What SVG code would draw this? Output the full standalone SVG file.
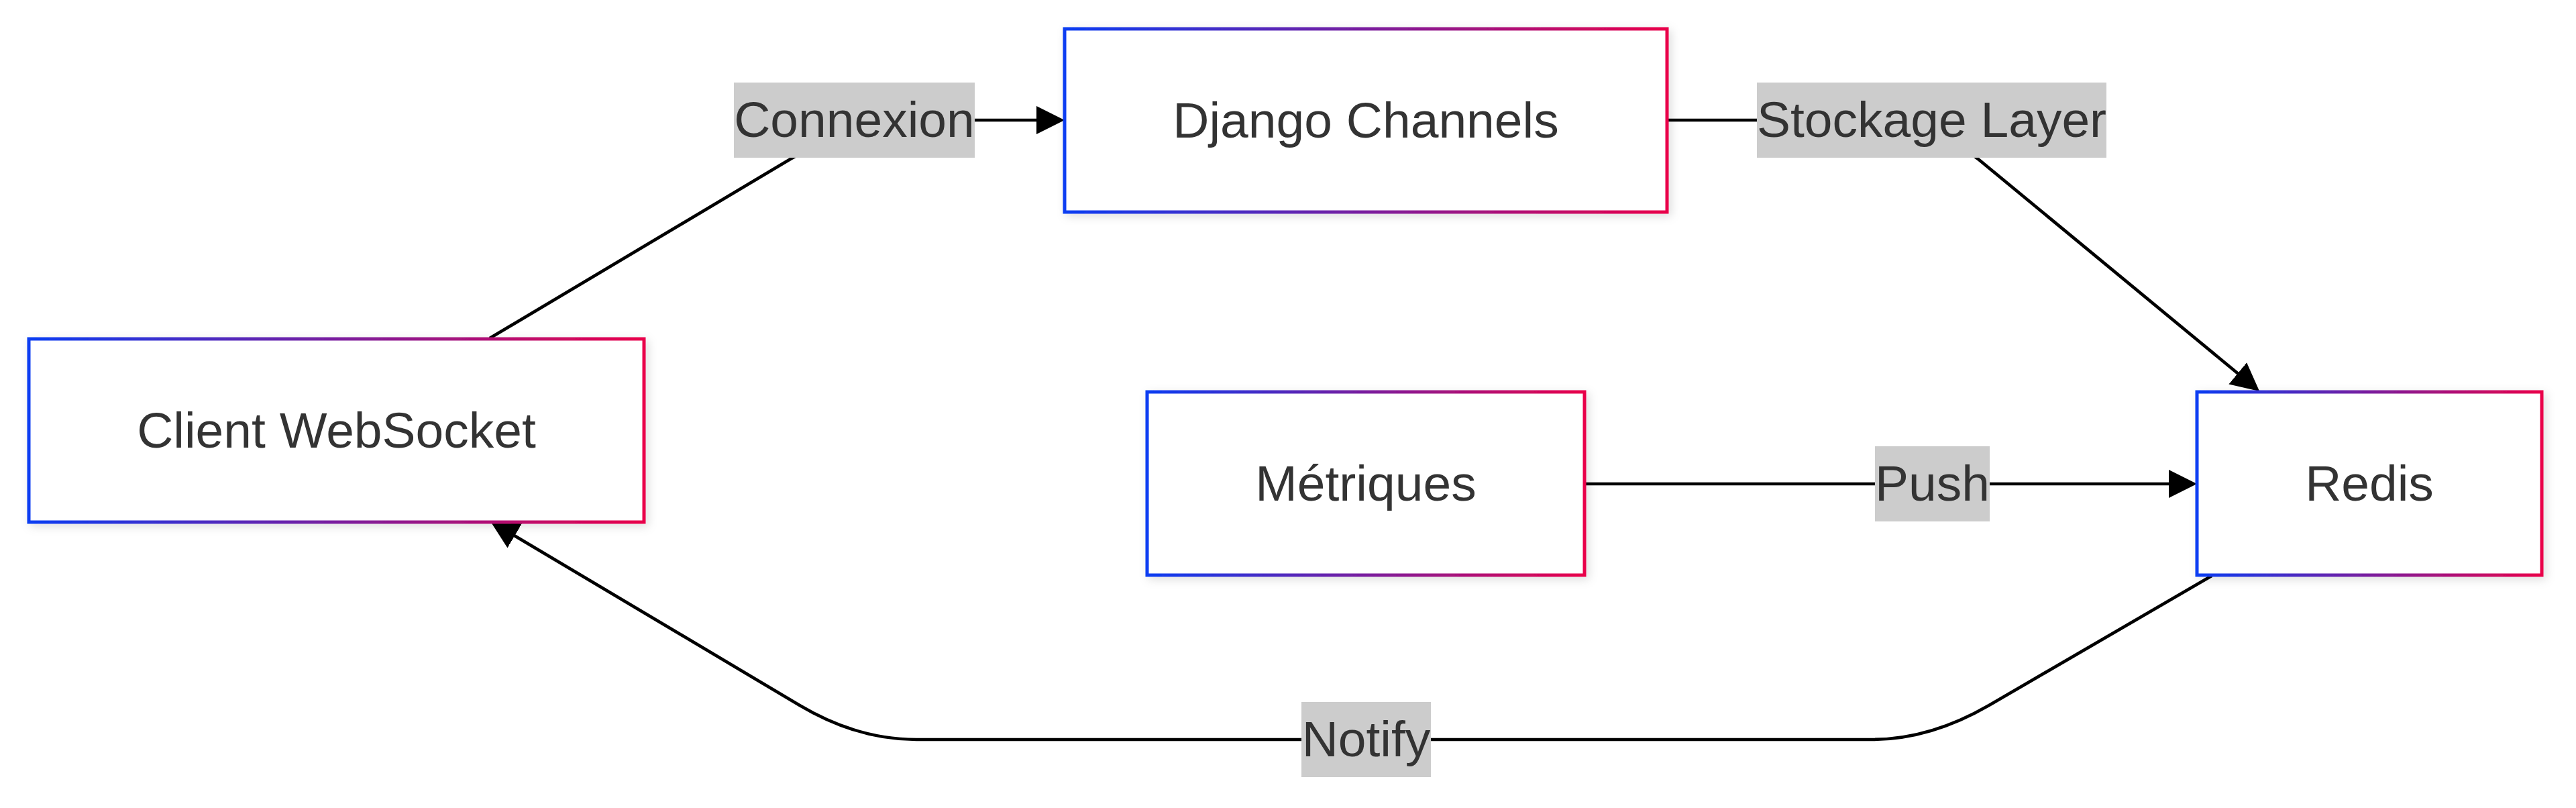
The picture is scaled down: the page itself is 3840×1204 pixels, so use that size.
<svg xmlns="http://www.w3.org/2000/svg" width="3840" height="1204" viewBox="0 0 3840 1204">
<defs>
<linearGradient id="border" x1="0" y1="0" x2="1" y2="0">
<stop offset="0" stop-color="#0a3cf2"/>
<stop offset="1" stop-color="#e9004a"/>
</linearGradient>
<filter id="shadow" x="-10%" y="-20%" width="120%" height="140%">
<feDropShadow dx="4" dy="4" stdDeviation="7" flood-color="#000" flood-opacity="0.13"/>
</filter>
<marker id="arrow" viewBox="0 0 10 10" refX="8.1" refY="5" markerWidth="42" markerHeight="44" markerUnits="userSpaceOnUse" orient="auto">
<path d="M0,0 L10,5 L0,10 z" fill="#000"/>
</marker>
<style>
.edge{fill:none;stroke:#000;stroke-width:4.7;marker-end:url(#arrow)}
.node rect{fill:#fff;stroke:url(#border);stroke-width:5;filter:url(#shadow)}
.lbl rect{fill:#cccccc}
text{font-family:"Liberation Sans",Arial,Helvetica,sans-serif;font-size:75px;fill:#333;text-anchor:middle}
</style>
</defs>
<rect width="3840" height="1204" fill="#fff"/>
<g id="connectors">
<path class="edge" d="M730,504 L1180,236 Q1276,179 1372,179 L1579,179"/>
<path class="edge" d="M2487,179 L2790,179 Q2878,179 2950,238 L3362,578"/>
<path class="edge" d="M2362,721 L3267,721"/>
<path class="edge" d="M3297,858 L2965,1051 Q2877,1102 2790,1102 L1366,1102 Q1278,1102 1192,1051 L738,781"/>
</g>
<g id="edge-labels">
<g class="lbl" id="label-connexion"><rect x="1094" y="123" width="359" height="112"/><text x="1273.5" y="204">Connexion</text></g>
<g class="lbl" id="label-stockage"><rect x="2619" y="123" width="521" height="112"/><text x="2879.5" y="204">Stockage Layer</text></g>
<g class="lbl" id="label-push"><rect x="2795" y="665" width="171" height="112"/><text x="2880.5" y="746">Push</text></g>
<g class="lbl" id="label-notify"><rect x="1940" y="1046" width="193" height="112"/><text x="2036.5" y="1127">Notify</text></g>
</g>
<g id="node-client" class="node"><rect x="43" y="505" width="917" height="273"/><text x="501.5" y="667">Client WebSocket</text></g>
<g id="node-django" class="node"><rect x="1587" y="43" width="898" height="273"/><text x="2036" y="205">Django Channels</text></g>
<g id="node-metriques" class="node"><rect x="1710" y="584" width="652" height="273"/><text x="2036" y="746">Métriques</text></g>
<g id="node-redis" class="node"><rect x="3275" y="584" width="514" height="273"/><text x="3532" y="746">Redis</text></g>
</svg>
